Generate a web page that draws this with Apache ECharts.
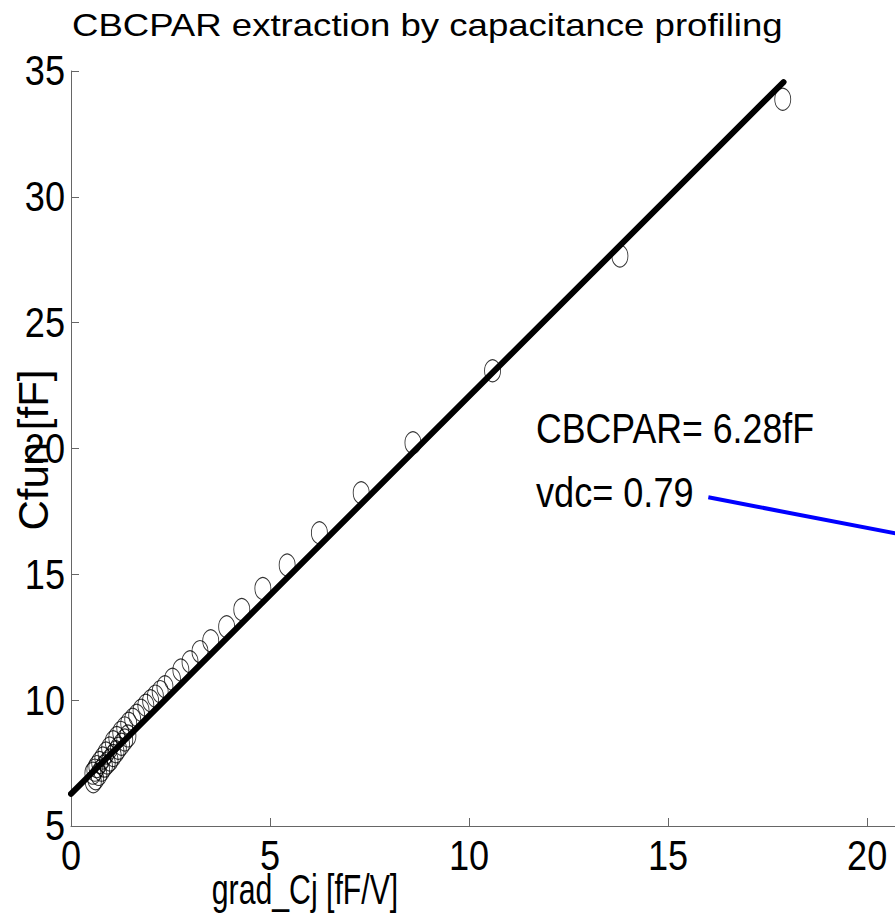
<!DOCTYPE html>
<html>
<head>
<meta charset="utf-8">
<script src="https://cdn.jsdelivr.net/npm/echarts@6/dist/echarts.min.js"></script>
<style>html,body{margin:0;padding:0;background:#fff;}#c{width:895px;height:915px;}</style>
</head>
<body>
<div id="c"></div>
<script>
// ---- data ----
const gradCj = [0.55, 0.60, 0.65, 0.72, 0.80, 0.88, 0.97, 1.06, 1.15, 1.25, 1.35, 1.45, 1.55, 1.65, 1.76, 1.88, 2.00, 2.12, 2.24, 2.36, 2.55, 2.76, 2.99, 3.24, 3.51, 3.91, 4.29, 4.82, 5.43, 6.24, 7.29, 8.59, 10.59, 13.79, 17.88,
                0.56, 0.62, 0.70, 0.77, 0.84, 0.91, 0.98, 1.06, 1.13, 1.19, 1.27, 1.35, 1.43];
const cfun   = [7.10, 7.22, 7.36, 7.52, 7.70, 7.90, 8.10, 8.35, 8.52, 8.72, 8.90, 9.08, 9.24, 9.40, 9.60, 9.80, 9.98, 10.16, 10.34, 10.53, 10.83, 11.20, 11.53, 11.93, 12.36, 12.92, 13.60, 14.44, 15.37, 16.65, 18.24, 20.23, 23.09, 27.65, 33.88,
                6.76, 6.88, 7.05, 7.22, 7.38, 7.50, 7.62, 7.80, 7.95, 8.09, 8.25, 8.42, 8.58];
const fitX = [0, 17.9];
const fitY = [6.28, 34.56];
const vdcX = [16.01, 21.5];
const vdcY = [18.06, 16.39];
const xTicks = [0, 5, 10, 15, 20];
const yTicks = [5, 10, 15, 20, 25, 30, 35];
const titleText = 'CBCPAR extraction by capacitance profiling';
const xName = 'grad_Cj [fF/V]';
const yName = 'Cfun [fF]';
const note1 = 'CBCPAR= 6.28fF';
const note2 = 'vdc= 0.79';

const FS = '"Liberation Sans", Arial, sans-serif';
const zip = (a, b) => a.map((v, i) => [v, b[i]]);

const chart = echarts.init(document.getElementById('c'), null, {renderer: 'svg'});
const baseGraphic = [
  {id: 'title', type: 'text', x: 72, y: 25, scaleX: 1.18, style: {text: titleText, font: '31px ' + FS, fill: '#000', align: 'left', verticalAlign: 'middle'}},
  {id: 'n1', type: 'text', x: 536, y: 428, scaleX: 0.83, style: {text: note1, font: '43px ' + FS, fill: '#000', align: 'left', verticalAlign: 'middle'}},
  {id: 'n2', type: 'text', x: 536, y: 492, scaleX: 0.84, style: {text: note2, font: '43px ' + FS, fill: '#000', align: 'left', verticalAlign: 'middle'}},
  {id: 'xn', type: 'text', x: 305, y: 890, scaleX: 0.72, style: {text: xName, font: '42px ' + FS, fill: '#000', align: 'center', verticalAlign: 'middle'}},
  {id: 'yn', type: 'text', x: 33, y: 450, rotation: Math.PI / 2, style: {text: yName, font: '42px ' + FS, fill: '#000', align: 'center', verticalAlign: 'middle'}}
];
chart.setOption({
  animation: false,
  backgroundColor: '#fff',
  grid: {left: 71, right: 0, top: 71, bottom: 89},
  xAxis: {
    type: 'value', min: 0, max: 20.7,
    axisLine: {show: true, onZero: false, lineStyle: {color: '#666', width: 1}},
    axisTick: {show: true, inside: true, length: 8, customValues: xTicks, lineStyle: {color: '#666'}},
    axisLabel: {show: false, customValues: xTicks},
    splitLine: {show: false}
  },
  yAxis: {
    type: 'value', min: 5, max: 35, interval: 5,
    axisLine: {show: true, onZero: false, lineStyle: {color: '#666', width: 1}},
    axisTick: {show: true, inside: true, length: 8, customValues: yTicks, lineStyle: {color: '#666'}},
    axisLabel: {show: false, customValues: yTicks},
    splitLine: {show: false}
  },
  series: [
    {
      type: 'scatter', data: zip(gradCj, cfun), symbol: 'circle', symbolSize: [16, 22],
      itemStyle: {color: 'rgba(0,0,0,0)', borderColor: '#000', borderWidth: 1}, z: 2
    },
    {
      type: 'line', data: zip(fitX, fitY), symbol: 'none', clip: true,
      lineStyle: {color: '#000', width: 6, cap: 'round'}, z: 3
    },
    {
      type: 'line', data: zip(vdcX, vdcY), symbol: 'none', clip: true,
      lineStyle: {color: '#0000ff', width: 4}, z: 3
    }
  ],
  graphic: baseGraphic
});

// tick labels placed through the axes' own scales (condensed like the reference)
const x0 = chart.convertToPixel({xAxisIndex: 0}, 0);
const yBottom = chart.convertToPixel({yAxisIndex: 0}, 5);
const tickLabels = [];
xTicks.forEach((v, i) => {
  tickLabels.push({id: 'xt' + i, type: 'text', x: chart.convertToPixel({xAxisIndex: 0}, v), y: yBottom + 30, scaleX: 0.86,
    style: {text: String(v), font: '42px ' + FS, fill: '#000', align: 'center', verticalAlign: 'middle'}});
});
yTicks.forEach((v, i) => {
  tickLabels.push({id: 'yt' + i, type: 'text', x: x0 - 6, y: chart.convertToPixel({yAxisIndex: 0}, v), scaleX: 0.86,
    style: {text: String(v), font: '42px ' + FS, fill: '#000', align: 'right', verticalAlign: 'middle'}});
});
chart.setOption({graphic: baseGraphic.concat(tickLabels)});
</script>
</body>
</html>
